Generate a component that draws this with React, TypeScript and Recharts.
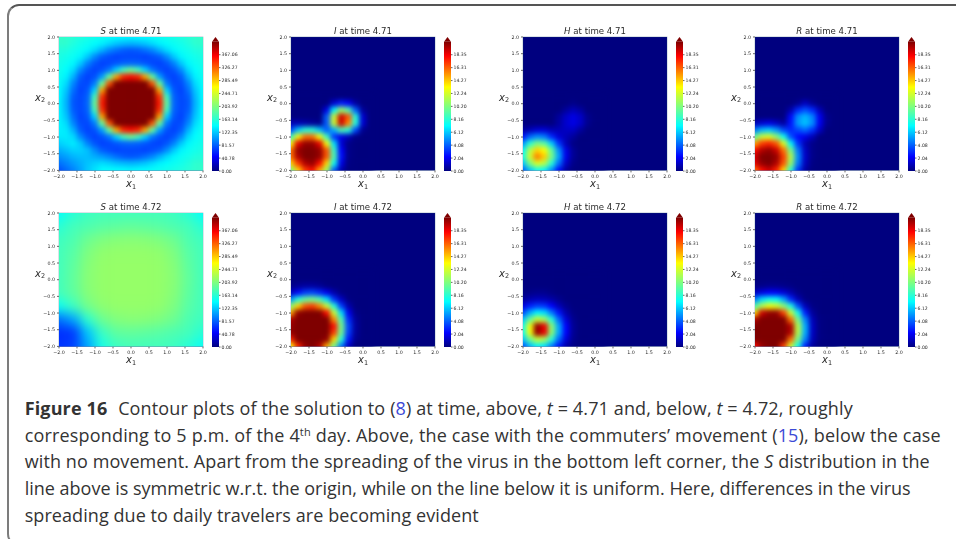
import React from 'react';
import { BarChart, Bar, ScatterChart, Scatter, XAxis, YAxis, CartesianGrid } from 'recharts';

// grid positions (x1, x2) of each table, rows run from top to bottom
const denseX = [-2, -1.8, -1.6, -1.4, -1.2, -1, -0.8, -0.6, -0.4, -0.2, 0, 0.2, 0.4, 0.6, 0.8, 1, 1.2, 1.4, 1.6, 1.8, 2];
const denseY = [2, 1.8, 1.6, 1.4, 1.2, 1, 0.8, 0.6, 0.4, 0.2, 0, -0.2, -0.4, -0.6, -0.8, -1, -1.2, -1.4, -1.6, -1.8, -2];
const coarseX = [-2, -1.6, -1.2, -0.8, -0.4, 0, 0.4, 0.8, 1.2, 1.6, 2];
const coarseY = [2, 1.6, 1.2, 0.8, 0.4, 0, -0.4, -0.8, -1.2, -1.6, -2];
const cornerX = [-2, -1.8, -1.6, -1.4, -1.2, -1, -0.8, -0.6, -0.4, -0.2, 0, 0.2];
const cornerY = [0.2, 0, -0.2, -0.4, -0.6, -0.8, -1, -1.2, -1.4, -1.6, -1.8, -2];

const axisTicks = [-2, -1.5, -1, -0.5, 0, 0.5, 1, 1.5, 2];
const sTicks = [0, 40.78, 81.57, 122.35, 163.14, 203.92, 244.71, 285.49, 326.27, 367.06];
const virusTicks = [0, 2.04, 4.08, 6.12, 8.16, 10.2, 12.24, 14.27, 16.31, 18.35];
const sMax = 407.85;
const virusMax = 20.39;

const s471 = [
  [168, 166, 162, 158, 154, 151, 148, 145, 142, 142, 140, 142, 142, 145, 148, 151, 154, 158, 162, 166, 168],
  [166, 165, 158, 152, 148, 143, 138, 130, 122, 117, 115, 117, 122, 130, 138, 143, 148, 152, 158, 165, 166],
  [160, 158, 152, 147, 140, 129, 113, 97, 88, 80, 78, 80, 88, 97, 113, 129, 140, 147, 152, 158, 160],
  [156, 152, 147, 139, 122, 98, 80, 74, 70, 72, 72, 72, 70, 74, 80, 98, 122, 139, 147, 152, 156],
  [153, 148, 140, 122, 95, 78, 70, 72, 78, 82, 84, 82, 78, 72, 70, 78, 95, 122, 140, 148, 153],
  [151, 143, 129, 98, 78, 70, 76, 90, 125, 175, 195, 175, 125, 90, 76, 70, 78, 98, 129, 143, 151],
  [148, 138, 113, 80, 70, 76, 105, 190, 300, 350, 360, 350, 300, 190, 105, 76, 70, 80, 113, 138, 148],
  [145, 130, 97, 74, 72, 92, 190, 330, 430, 430, 430, 430, 430, 330, 190, 92, 72, 74, 97, 130, 145],
  [142, 122, 88, 70, 78, 125, 300, 430, 430, 430, 430, 430, 430, 430, 300, 125, 78, 70, 88, 122, 142],
  [142, 117, 80, 72, 82, 175, 345, 430, 430, 430, 430, 430, 430, 430, 345, 175, 82, 72, 80, 117, 142],
  [140, 115, 78, 72, 84, 190, 355, 430, 430, 430, 430, 430, 430, 430, 355, 190, 84, 72, 78, 115, 140],
  [140, 117, 80, 72, 82, 175, 345, 430, 430, 430, 430, 430, 430, 430, 345, 175, 82, 72, 80, 117, 142],
  [140, 122, 88, 70, 78, 125, 300, 430, 430, 430, 430, 430, 430, 430, 300, 125, 78, 70, 88, 122, 142],
  [140, 130, 97, 74, 72, 92, 190, 330, 430, 430, 430, 430, 430, 330, 190, 92, 72, 74, 97, 130, 145],
  [138, 135, 113, 80, 70, 76, 105, 190, 300, 350, 360, 350, 300, 190, 105, 76, 70, 80, 113, 138, 148],
  [135, 135, 129, 98, 78, 70, 76, 90, 125, 175, 195, 175, 125, 90, 76, 70, 78, 98, 129, 143, 151],
  [125, 130, 135, 122, 95, 78, 70, 72, 78, 82, 84, 82, 78, 72, 70, 78, 95, 122, 140, 148, 153],
  [112, 118, 125, 125, 118, 98, 80, 74, 70, 72, 72, 72, 70, 74, 80, 98, 122, 139, 147, 152, 156],
  [100, 106, 114, 118, 118, 112, 106, 97, 88, 80, 78, 80, 88, 97, 113, 129, 140, 147, 152, 158, 160],
  [88, 95, 104, 112, 120, 126, 130, 126, 120, 117, 115, 117, 122, 130, 138, 143, 148, 152, 158, 165, 166],
  [75, 85, 95, 108, 122, 132, 142, 144, 142, 142, 140, 142, 142, 145, 148, 151, 154, 158, 162, 166, 168],
];

const s472 = [
  [145, 162, 172, 175, 175, 175, 175, 175, 172, 162, 145],
  [162, 175, 180, 185, 188, 190, 188, 185, 180, 175, 162],
  [172, 180, 195, 203, 207, 208, 207, 203, 195, 180, 172],
  [175, 185, 203, 212, 214, 214, 214, 212, 203, 185, 175],
  [175, 188, 207, 214, 215, 215, 215, 214, 207, 188, 175],
  [175, 190, 208, 214, 215, 215, 215, 214, 208, 190, 175],
  [175, 188, 207, 214, 215, 215, 215, 214, 207, 188, 175],
  [150, 172, 198, 210, 214, 214, 214, 212, 203, 185, 175],
  [88, 108, 165, 195, 205, 208, 207, 203, 195, 180, 172],
  [62, 66, 120, 170, 188, 190, 188, 185, 180, 175, 162],
  [65, 70, 108, 155, 172, 176, 175, 175, 172, 162, 148],
];

const i471 = [
  [0, 0, 0, 0, 0, 0, 0, 0, 0, 0, 0, 0],
  [0, 0, 0, 0, 0, 0, 1.5, 2.8, 2.2, 0.6, 0, 0],
  [0, 0, 0, 0, 0, 1.8, 7, 11, 9, 4, 0.5, 0],
  [0, 0, 0, 0, 0, 4, 12, 19, 16.5, 8, 1.5, 0],
  [1, 1, 0.8, 0.5, 0.3, 4, 12, 19, 15.5, 8, 1.5, 0],
  [3.5, 6, 8, 8, 6, 4, 5.5, 9, 8, 3.5, 0.3, 0],
  [8.5, 13, 16, 16, 13, 8.5, 3.2, 1.8, 1, 0.1, 0, 0],
  [13, 18.5, 20, 20, 18.5, 13, 6.5, 1.5, 0.2, 0, 0, 0],
  [16, 20, 20.4, 20.4, 20, 16.5, 8.5, 2.2, 0.2, 0, 0, 0],
  [16, 19.5, 20.4, 20.4, 20, 16.5, 9, 2.5, 0.2, 0, 0, 0],
  [14, 17, 19.5, 20, 18, 14, 7.5, 1.8, 0.1, 0, 0, 0],
  [10, 14, 17, 18, 15, 11, 4, 0.8, 0, 0, 0, 0],
];

const h471 = [
  [0, 0, 0, 0, 0, 0, 0, 0, 0, 0, 0, 0],
  [0, 0, 0, 0, 0, 0, 0, 0.2, 0, 0, 0, 0],
  [0, 0, 0, 0, 0, 0, 0.5, 1, 0.6, 0, 0, 0],
  [0, 0, 0, 0, 0, 0.5, 1.3, 1.8, 1.3, 0.3, 0, 0],
  [0, 0, 0, 0, 0, 0.6, 1.4, 1.8, 1.3, 0.3, 0, 0],
  [0.6, 1, 1.5, 1.5, 1, 1, 1.2, 1.2, 0.5, 0, 0, 0],
  [2.5, 4.2, 5, 4.6, 3, 1.5, 1, 0.5, 0, 0, 0, 0],
  [5, 8, 10, 9.2, 6.2, 3.2, 1, 0.1, 0, 0, 0, 0],
  [7, 11.5, 14, 13.2, 9.5, 5, 1.8, 0.4, 0, 0, 0, 0],
  [7.6, 12.2, 15.8, 14.2, 10, 5.5, 1.9, 0.4, 0, 0, 0, 0],
  [6, 10, 12.5, 11.5, 8, 4.4, 1.3, 0.2, 0, 0, 0, 0],
  [4, 6, 7.5, 7, 5, 2.4, 0.5, 0, 0, 0, 0, 0],
];

const r471 = [
  [0, 0, 0, 0, 0, 0, 0, 0, 0, 0, 0, 0],
  [0, 0, 0, 0, 0, 0, 0.3, 1.2, 0.4, 0, 0, 0],
  [0, 0, 0, 0, 0, 0.8, 3, 3.8, 3, 1, 0, 0],
  [0, 0, 0, 0, 0, 2.4, 5, 5.8, 4.8, 2, 0.3, 0],
  [1, 1.5, 1.8, 1.3, 0.6, 2.6, 5.2, 6, 5, 2, 0.3, 0],
  [4.5, 5.8, 6.2, 5.2, 3.6, 3, 3.6, 4.2, 3.2, 1.2, 0, 0],
  [9.5, 12, 12.5, 10.5, 7.5, 3.8, 2.4, 1.8, 1, 0, 0, 0],
  [15, 17, 17.5, 16.5, 12.5, 7, 3.2, 0.9, 0.2, 0, 0, 0],
  [18, 19.5, 20, 19, 16, 10, 4.5, 1.2, 0.2, 0, 0, 0],
  [19, 20.4, 20.4, 20, 17, 11.5, 5, 1.3, 0.2, 0, 0, 0],
  [18.5, 20, 20.4, 19.5, 16.5, 10.7, 4.6, 1.1, 0.1, 0, 0, 0],
  [16, 18, 19, 17.5, 14, 8, 3.2, 0.6, 0, 0, 0, 0],
];

const i472 = [
  [0, 0, 0, 0, 0, 0, 0, 0, 0, 0, 0, 0],
  [0, 0, 0, 0, 0, 0, 0, 0, 0, 0, 0, 0],
  [0.2, 0.4, 0.6, 0.6, 0.4, 0.1, 0, 0, 0, 0, 0, 0],
  [1.2, 2.4, 3.4, 3.6, 3, 2, 0.8, 0.1, 0, 0, 0, 0],
  [5, 8, 9.5, 10, 9, 6.5, 3.2, 1.2, 0.1, 0, 0, 0],
  [10.5, 14, 16.5, 17, 15.5, 12, 8, 3.4, 0.8, 0, 0, 0],
  [15, 20, 20.4, 20.4, 20.4, 18, 12, 6.5, 2, 0.2, 0, 0],
  [19.5, 20.4, 20.4, 20.4, 20.4, 20.4, 15.5, 9, 3, 0.5, 0, 0],
  [20, 20.4, 20.4, 20.4, 20.4, 20.4, 18, 10, 3.6, 0.6, 0, 0],
  [20, 20.4, 20.4, 20.4, 20.4, 20.4, 17, 9.8, 3.4, 0.5, 0, 0],
  [17.5, 20.4, 20.4, 20.4, 20.4, 20, 14, 8, 2.6, 0.3, 0, 0],
  [13, 17.5, 20, 20.4, 19.5, 15, 10, 4.5, 1.2, 0, 0, 0],
];

const h472 = [
  [0, 0, 0, 0, 0, 0, 0, 0, 0, 0, 0, 0],
  [0, 0, 0, 0, 0, 0, 0, 0, 0, 0, 0, 0],
  [0, 0, 0, 0, 0, 0, 0, 0, 0, 0, 0, 0],
  [0.1, 0.2, 0.3, 0.3, 0.1, 0, 0, 0, 0, 0, 0, 0],
  [0.5, 0.9, 1.1, 1, 0.7, 0.3, 0, 0, 0, 0, 0, 0],
  [1.7, 2.8, 3.4, 3.2, 2.2, 1, 0.3, 0, 0, 0, 0, 0],
  [3.6, 5.6, 7, 6.6, 4.6, 2.6, 0.8, 0.1, 0, 0, 0, 0],
  [6, 9.5, 12, 11, 8, 4.2, 1.6, 0.3, 0, 0, 0, 0],
  [7.6, 13, 20, 18.5, 10.5, 5.5, 2.2, 0.4, 0, 0, 0, 0],
  [7.6, 13, 20, 18.5, 10.5, 5.5, 2.2, 0.4, 0, 0, 0, 0],
  [6, 9.5, 12, 11, 8, 4.2, 1.6, 0.3, 0, 0, 0, 0],
  [3.8, 5.8, 7, 6.6, 4.6, 2.6, 0.8, 0.1, 0, 0, 0, 0],
];

const r472 = [
  [0, 0, 0, 0, 0, 0, 0, 0, 0, 0, 0, 0],
  [0, 0, 0, 0, 0, 0, 0, 0, 0, 0, 0, 0],
  [0.1, 0.2, 0.3, 0.3, 0.2, 0.1, 0, 0, 0, 0, 0, 0],
  [1.2, 1.8, 2.2, 2.1, 1.6, 0.9, 0.2, 0, 0, 0, 0, 0],
  [4.5, 6.5, 7.5, 7.2, 5.5, 3, 1, 0.1, 0, 0, 0, 0],
  [9, 11.5, 13, 12.4, 10.5, 7.8, 3.8, 1, 0.1, 0, 0, 0],
  [14, 19, 20, 20, 17, 12, 7.5, 2.8, 0.5, 0, 0, 0],
  [19.5, 20.4, 20.4, 20.4, 20.4, 16, 10, 4.8, 1, 0.1, 0, 0],
  [20.4, 20.4, 20.4, 20.4, 20.4, 19.5, 11.5, 5.6, 1.2, 0.1, 0, 0],
  [20.4, 20.4, 20.4, 20.4, 20.4, 19.5, 11.5, 5.6, 1.2, 0.1, 0, 0],
  [20.4, 20.4, 20.4, 20.4, 20.4, 16, 10, 4.8, 1, 0.1, 0, 0],
  [18, 20, 20.4, 20.4, 17, 12, 7.5, 2.8, 0.5, 0, 0, 0],
];

const jetStops: [number, number[]][] = [
  [0, [0, 0, 127]],
  [0.11, [0, 0, 255]],
  [0.35, [0, 255, 255]],
  [0.5, [127, 255, 127]],
  [0.65, [255, 255, 0]],
  [0.89, [255, 0, 0]],
  [1, [127, 0, 0]],
];

function jet(t: number) {
  const v = Math.max(0, Math.min(1, t));
  for (let i = 1; i < jetStops.length; i++) {
    const [t1, c1] = jetStops[i];
    if (v <= t1) {
      const [t0, c0] = jetStops[i - 1];
      const f = (v - t0) / (t1 - t0);
      return `rgb(${c0.map((c, k) => Math.round(c + (c1[k] - c) * f)).join(',')})`;
    }
  }
  return 'rgb(127,0,0)';
}

const PW = 144;
const PH = 133.4;
const LEFT = 40;
const TOP = 30;
const RIGHT = 8;
const columns = [59, 291, 523, 755];
const rows = [37.3, 213.3];
const textColor = '#2a2a2a';

function toPoints(grid: number[][], xs: number[], ys: number[]) {
  return grid.flatMap((row, j) => row.map((v, i) => ({ x: xs[i], y: ys[j], v })));
}

function HeatPanel({ id, letter, time, grid, xs, ys, max, px, py }: any) {
  const step = Math.abs(xs[1] - xs[0]);
  const cw = (step * PW) / 4;
  const ch = (step * PH) / 4;
  const sigma = cw * 0.36;
  const pad = sigma * 4;

  const cell = (props: any) => {
    const { cx, cy, payload } = props;
    const x0 = cx - cw / 2 - 0.3 - (payload.x === -2 ? pad : 0);
    const x1 = cx + cw / 2 + 0.3 + (payload.x === 2 ? pad : 0);
    const y0 = cy - ch / 2 - 0.3 - (payload.y === 2 ? pad : 0);
    const y1 = cy + ch / 2 + 0.3 + (payload.y === -2 ? pad : 0);
    return <rect x={x0} y={y0} width={x1 - x0} height={y1 - y0} fill={jet(payload.v / max)} />;
  };

  return (
    <div style={{ position: 'absolute', left: px - LEFT, top: py - TOP }}>
      <style>{`.heat-${id} { filter: blur(${sigma}px); clip-path: url(#plot-${id}); }`}</style>
      <ScatterChart width={LEFT + PW + RIGHT} height={TOP + PH + 30} margin={{ top: TOP, right: RIGHT, bottom: 0, left: 0 }}>
        <defs>
          <clipPath id={`plot-${id}`}>
            <rect x={LEFT} y={TOP} width={PW} height={PH} />
          </clipPath>
        </defs>
        <CartesianGrid fill="#00007f" stroke="none" />
        <XAxis
          dataKey="x"
          type="number"
          domain={[-2, 2]}
          ticks={axisTicks}
          height={30}
          interval={0}
          tickSize={2}
          tickMargin={2}
          axisLine={false}
          tick={{ fontSize: 4.8, fill: textColor, fontFamily: 'DejaVu Sans' }}
          tickFormatter={(v: number) => v.toFixed(1).replace('-', '\u2212')}
        />
        <YAxis
          dataKey="y"
          type="number"
          domain={[-2, 2]}
          ticks={axisTicks}
          width={LEFT}
          interval={0}
          tickSize={2}
          tickMargin={2}
          axisLine={false}
          tick={{ fontSize: 4.8, fill: textColor, fontFamily: 'DejaVu Sans' }}
          tickFormatter={(v: number) => v.toFixed(1).replace('-', '\u2212')}
        />
        <Scatter
          className={`heat-${id}`}
          data={toPoints(grid, xs, ys)}
          shape={cell}
          isAnimationActive={false}
        />
        <rect x={LEFT} y={TOP} width={PW} height={PH} fill="none" stroke="#16406e" strokeOpacity={0.45} strokeWidth={0.7} />
        <text x={LEFT + PW / 2} y={TOP - 3.2} textAnchor="middle" fontSize={8.6} fill={textColor} fontFamily="DejaVu Sans" className="soft">
          <tspan fontStyle="italic">{letter}</tspan> at time {time}
        </text>
        <text x={LEFT + PW / 2} y={TOP + PH + 17} textAnchor="middle" fontSize={10} fill={textColor} fontFamily="DejaVu Sans" fontStyle="italic" className="soft">
          x<tspan fontSize={6.5} dy={1.8} fontStyle="normal">1</tspan>
        </text>
        <text x={LEFT - 19} y={TOP + PH / 2 - 3} textAnchor="middle" fontSize={10} fill={textColor} fontFamily="DejaVu Sans" fontStyle="italic" className="soft">
          x<tspan fontSize={6.5} dy={1.8} fontStyle="normal">2</tspan>
        </text>
      </ScatterChart>
    </div>
  );
}

function ColorBar({ id, ticks, max, px, py }: any) {
  const barTop = 4.8;
  const barHeight = 129.2;
  const bar = (props: any) => {
    const { x, y, width, height } = props;
    return (
      <g>
        <path d={`M${x} ${y}L${x + width / 2} ${y - barTop}L${x + width} ${y}Z`} fill="#7f0000" />
        <rect x={x} y={y} width={width} height={height} fill={`url(#jet-${id})`} />
      </g>
    );
  };
  return (
    <div style={{ position: 'absolute', left: px, top: py - barTop - 0.6 }}>
      <BarChart
        width={40}
        height={barTop + barHeight + 6}
        data={[{ level: max }]}
        barCategoryGap={0}
        margin={{ top: barTop, right: 0, bottom: 6, left: 0 }}
      >
        <defs>
          <linearGradient id={`jet-${id}`} x1="0" y1="1" x2="0" y2="0">
            {jetStops.map(([t, c]) => (
              <stop key={t} offset={t} stopColor={`rgb(${c.join(',')})`} />
            ))}
          </linearGradient>
        </defs>
        <XAxis hide />
        <YAxis
          orientation="right"
          type="number"
          domain={[0, max]}
          ticks={ticks}
          width={33}
          interval={0}
          tickSize={1.5}
          tickMargin={1}
          axisLine={false}
          tick={{ fontSize: 4.6, fill: textColor, fontFamily: 'DejaVu Sans' }}
          tickFormatter={(v: number) => v.toFixed(2)}
        />
        <Bar dataKey="level" shape={bar} isAnimationActive={false} />
      </BarChart>
    </div>
  );
}

const panels = [
  { id: 's1', letter: 'S', time: '4.71', grid: s471, xs: denseX, ys: denseY, max: sMax, ticks: sTicks, col: 0, row: 0 },
  { id: 'i1', letter: 'I', time: '4.71', grid: i471, xs: cornerX, ys: cornerY, max: virusMax, ticks: virusTicks, col: 1, row: 0 },
  { id: 'h1', letter: 'H', time: '4.71', grid: h471, xs: cornerX, ys: cornerY, max: virusMax, ticks: virusTicks, col: 2, row: 0 },
  { id: 'r1', letter: 'R', time: '4.71', grid: r471, xs: cornerX, ys: cornerY, max: virusMax, ticks: virusTicks, col: 3, row: 0 },
  { id: 's2', letter: 'S', time: '4.72', grid: s472, xs: coarseX, ys: coarseY, max: sMax, ticks: sTicks, col: 0, row: 1 },
  { id: 'i2', letter: 'I', time: '4.72', grid: i472, xs: cornerX, ys: cornerY, max: virusMax, ticks: virusTicks, col: 1, row: 1 },
  { id: 'h2', letter: 'H', time: '4.72', grid: h472, xs: cornerX, ys: cornerY, max: virusMax, ticks: virusTicks, col: 2, row: 1 },
  { id: 'r2', letter: 'R', time: '4.72', grid: r472, xs: cornerX, ys: cornerY, max: virusMax, ticks: virusTicks, col: 3, row: 1 },
];

function Caption() {
  const common = { x: 24.7, fontSize: 18, fill: '#333', fontFamily: 'Open Sans', lengthAdjust: 'spacing' as const };
  const link = '#3b49d6';
  return (
    <svg width={956} height={539} style={{ position: 'absolute', left: 0, top: 0 }}>
      <text {...common} y={415} textLength={828}>
        <tspan fontWeight="bold">Figure 16</tspan>
        <tspan dx={6}> Contour plots of the solution to (</tspan>
        <tspan fill={link}>8</tspan>) at time, above, <tspan fontStyle="italic">t</tspan> = 4.71 and, below,{' '}
        <tspan fontStyle="italic">t</tspan> = 4.72, roughly
      </text>
      <text {...common} y={441.7} textLength={916}>
        corresponding to 5 p.m. of the 4<tspan fontSize={11} dy={-6}>th</tspan>
        <tspan dy={6}> day. Above, the case with the commuters’ movement (</tspan>
        <tspan fill={link}>15</tspan>), below the case
      </text>
      <text {...common} y={468.3} textLength={905}>
        with no movement. Apart from the spreading of the virus in the bottom left corner, the{' '}
        <tspan fontStyle="italic">S</tspan> distribution in the
      </text>
      <text {...common} y={495} textLength={886}>
        line above is symmetric w.r.t. the origin, while on the line below it is uniform. Here, differences in the virus
      </text>
      <text {...common} y={521.7} textLength={454}>
        spreading due to daily travelers are becoming evident
      </text>
    </svg>
  );
}

export default function App() {
  return (
    <div style={{ position: 'absolute', left: 0, top: 0, width: 956, height: 539, overflow: 'hidden', background: '#fff' }}>
      <style>{`.recharts-cartesian-axis-tick-value, .soft { filter: blur(0.3px); }`}</style>
      <div
        style={{
          position: 'absolute',
          left: 7,
          top: 4,
          width: 1000,
          height: 542,
          border: '2px solid #7c7c7c',
          borderTopColor: '#555',
          borderRadius: 12,
          boxSizing: 'border-box',
        }}
      />
      {panels.map((p) => (
        <React.Fragment key={p.id}>
          <HeatPanel {...p} px={columns[p.col]} py={rows[p.row]} />
          <ColorBar id={p.id} ticks={p.ticks} max={p.max} px={columns[p.col] + 153} py={rows[p.row] + 4.8} />
        </React.Fragment>
      ))}
      <Caption />
    </div>
  );
}
